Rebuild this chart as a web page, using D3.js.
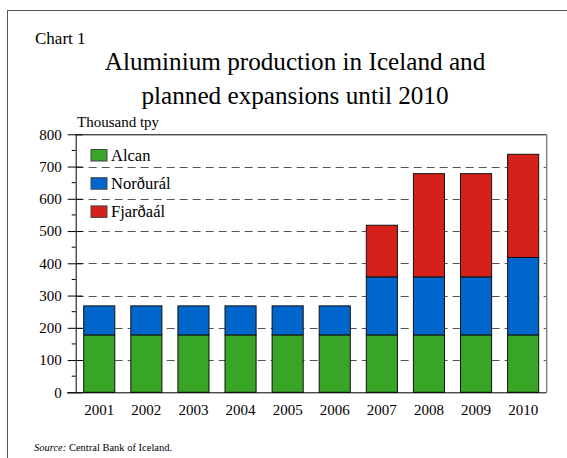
<!DOCTYPE html>
<html>
<head>
<meta charset="utf-8">
<script src="https://cdn.jsdelivr.net/npm/d3@7"></script>
<style>
  body { margin: 0; background: #fff; }
  svg { display: block; font-family: "Liberation Serif", "Times New Roman", serif; }
</style>
</head>
<body>
<div id="chart"></div>
<script>
// data
var years = ['2001','2002','2003','2004','2005','2006','2007','2008','2009','2010'];
var alcan     = [178, 178, 178, 178, 178, 178, 178, 178, 178, 178];
var nordural  = [90, 90, 90, 90, 90, 90, 180, 180, 180, 240];
var fjardaal  = [0, 0, 0, 0, 0, 0, 160, 320, 320, 320];
var seriesNames = ['Alcan', 'Norðurál', 'Fjarðaál'];
var yTicks = [0, 100, 200, 300, 400, 500, 600, 700, 800];

var colors = ['#38a526', '#0066cc', '#d52119'];

var width = 567, height = 458;
var plotLeft = 75.7, plotRight = 546.7, plotTop = 134.3, plotBottom = 392.3;

var svg = d3.select('#chart').append('svg')
	.attr('width', width)
	.attr('height', height);

// outer frame (runs off the picture at right and bottom)
svg.append('rect')
	.attr('x', 7.5).attr('y', 10.5)
	.attr('width', 600).attr('height', 500)
	.attr('fill', 'none').attr('stroke', '#555').attr('stroke-width', 1);

svg.append('text').attr('x', 35).attr('y', 44)
	.attr('font-size', 17).text('Chart 1');

svg.append('text').attr('x', 295).attr('y', 70)
	.attr('font-size', 25.2).attr('text-anchor', 'middle')
	.text('Aluminium production in Iceland and');
svg.append('text').attr('x', 295).attr('y', 104)
	.attr('font-size', 25.2).attr('text-anchor', 'middle')
	.text('planned expansions until 2010');

svg.append('text').attr('x', 77).attr('y', 127)
	.attr('font-size', 15).text('Thousand tpy');

var x = d3.scaleBand().domain(years).range([plotLeft, plotRight])
	.paddingInner(0.34).paddingOuter(0.17);
var y = d3.scaleLinear().domain([0, 800]).range([plotBottom, plotTop]);

// dashed grid
svg.selectAll('.grid')
	.data(yTicks.filter(function(d){ return d > 0 && d < 800; }))
	.enter().append('line')
	.attr('x1', plotLeft).attr('x2', plotRight)
	.attr('y1', function(d){ return Math.round(y(d)) + 0.5; })
	.attr('y2', function(d){ return Math.round(y(d)) + 0.5; })
	.attr('stroke', '#555').attr('stroke-width', 1)
	.attr('stroke-dasharray', '8,5');

// stacked bars
var rows = years.map(function(yr, i){
	return { year: yr, Alcan: alcan[i], 'Norðurál': nordural[i], 'Fjarðaál': fjardaal[i] };
});
var stack = d3.stack().keys(seriesNames)(rows);

svg.selectAll('.layer')
	.data(stack)
	.enter().append('g')
	.attr('fill', function(d, i){ return colors[i]; })
	.selectAll('rect')
	.data(function(d){ return d.filter(function(p){ return p[1] - p[0] > 0; }); })
	.enter().append('rect')
	.attr('x', function(d){ return x(d.data.year); })
	.attr('y', function(d){ return y(d[1]); })
	.attr('width', x.bandwidth())
	.attr('height', function(d){ return y(d[0]) - y(d[1]); })
	.attr('stroke', '#111').attr('stroke-width', 1);

// frame of plot
svg.append('line').attr('x1', plotLeft).attr('x2', plotRight)
	.attr('y1', plotTop + 0.5).attr('y2', plotTop + 0.5)
	.attr('stroke', '#000');
svg.append('line').attr('x1', plotRight).attr('x2', plotRight)
	.attr('y1', plotTop).attr('y2', plotBottom)
	.attr('stroke', '#888').attr('stroke-width', 1.5);

// y axis
var yAxis = d3.axisLeft(y).tickValues(yTicks).tickSize(8).tickSizeOuter(0)
	.tickFormat(d3.format('d'));
var ya = svg.append('g').attr('transform', 'translate(' + plotLeft + ',0)').call(yAxis);
ya.select('.domain').attr('stroke', '#000');
ya.selectAll('.tick line').attr('x2', -8).attr('x1', 7).attr('stroke', '#000');
ya.selectAll('.tick text').attr('font-size', 15).attr('font-family', '"Liberation Serif", serif')
	.attr('fill', '#000').attr('x', -14);

// minor ticks
var minor = d3.range(50, 800, 100);
svg.selectAll('.minor').data(minor).enter().append('line')
	.attr('x1', plotLeft - 4).attr('x2', plotLeft)
	.attr('y1', function(d){ return y(d); }).attr('y2', function(d){ return y(d); })
	.attr('stroke', '#000');

// x axis
svg.append('line').attr('x1', 67).attr('x2', plotRight)
	.attr('y1', plotBottom + 0.5).attr('y2', plotBottom + 0.5).attr('stroke', '#000');
svg.selectAll('.xlab').data(years).enter().append('text')
	.attr('x', function(d){ return x(d) + x.bandwidth() / 2; })
	.attr('y', 415)
	.attr('text-anchor', 'middle').attr('font-size', 15)
	.text(function(d){ return d; });

// legend
var legend = svg.selectAll('.leg').data(seriesNames).enter().append('g')
	.attr('transform', function(d, i){ return 'translate(91,' + (149.5 + i * 28.2) + ')'; });
legend.append('rect').attr('width', 16).attr('height', 11.5)
	.attr('fill', function(d, i){ return colors[i]; })
	.attr('stroke', '#444');
legend.append('text').attr('x', 20).attr('y', 11)
	.attr('font-size', 16.5).text(function(d){ return d; });

// source
var src = svg.append('text').attr('x', 34).attr('y', 451).attr('font-size', 10.5);
src.append('tspan').attr('font-style', 'italic').text('Source:');
src.append('tspan').text(' Central Bank of Iceland.');
</script>
</body>
</html>
